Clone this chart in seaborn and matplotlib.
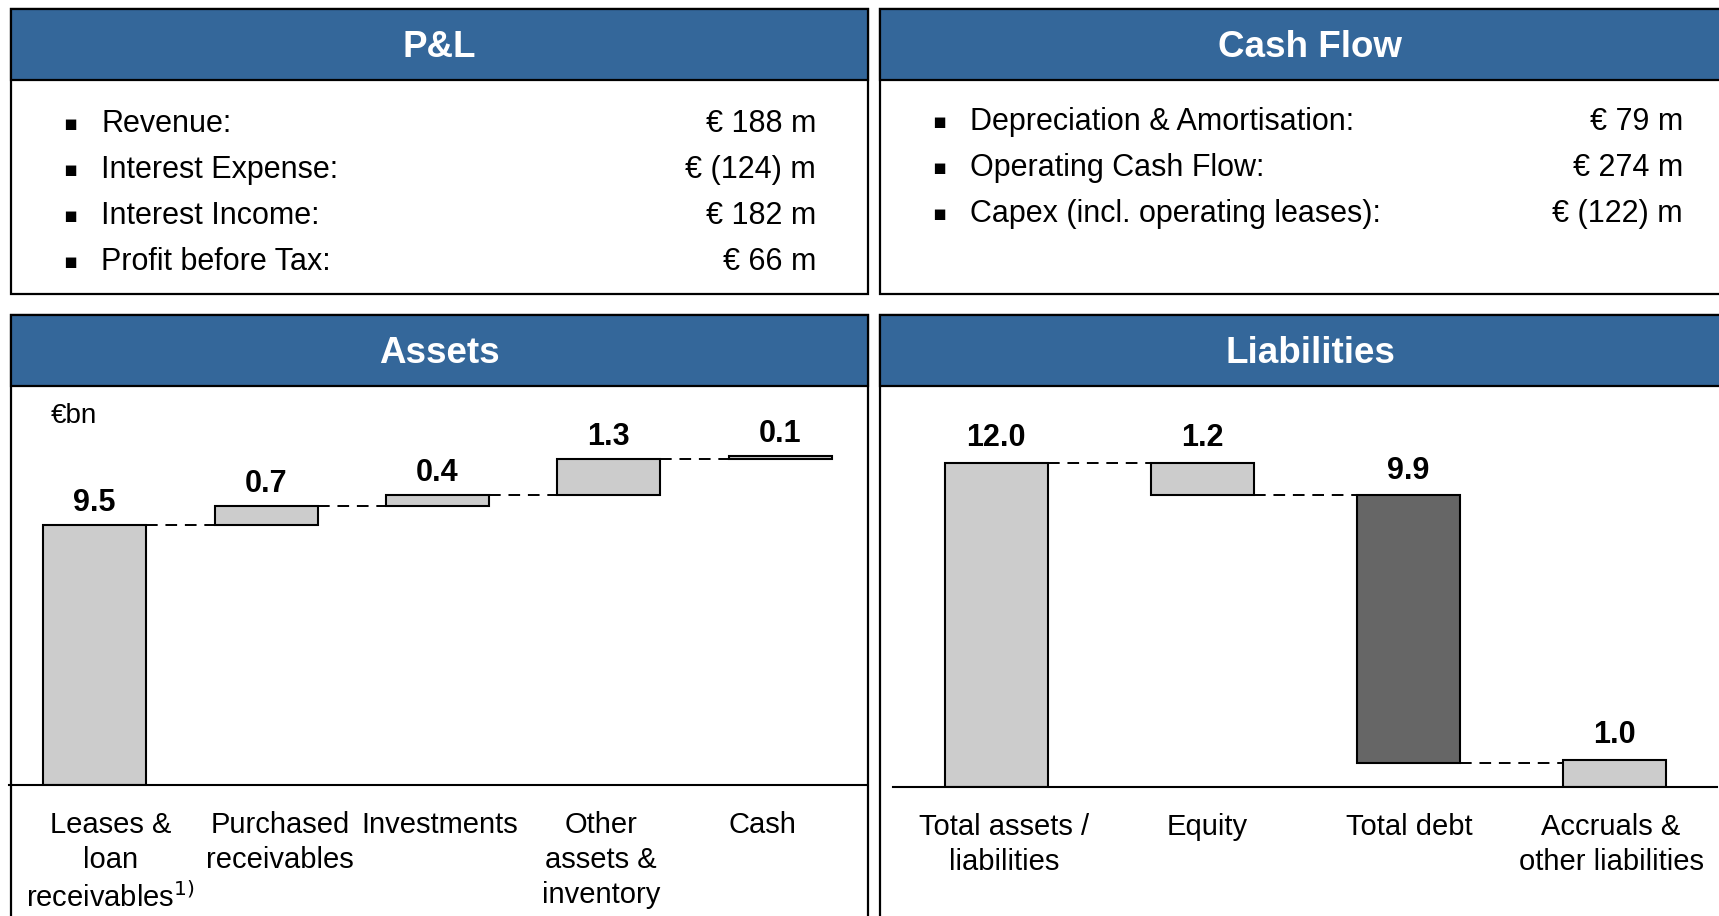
import matplotlib
matplotlib.use("Agg")
import matplotlib.pyplot as plt
from matplotlib.patches import Rectangle
from matplotlib.transforms import ScaledTranslation
import seaborn as sns

# figure size in pixels (dpi 100)
W, H = 1719, 916

# --- data -------------------------------------------------------------
pl_items = ["Revenue:", "Interest Expense:", "Interest Income:", "Profit before Tax:"]
pl_values = ["€ 188 m", "€ (124) m", "€ 182 m", "€ 66 m"]

cf_items = ["Depreciation & Amortisation:", "Operating Cash Flow:",
            "Capex (incl. operating leases):"]
cf_values = ["€ 79 m", "€ 274 m", "€ (122) m"]

asset_labels = ["Leases &\nloan\nreceivables$^{1)}$", "Purchased\nreceivables",
                "Investments", "Other\nassets &\ninventory", "Cash"]
asset_values = [9.5, 0.7, 0.4, 1.3, 0.1]

liab_labels = ["Total assets /\nliabilities", "Equity", "Total debt",
               "Accruals &\nother liabilities"]
liab_values = [12.0, 1.2, 9.9, 1.0]

BLUE = "#34679a"
LIGHT = "#cccccc"
DARK = "#666666"

sns.set_theme(style="white")
plt.rcParams['font.family'] = ['Liberation Sans', 'DejaVu Sans']
plt.rcParams['text.color'] = 'black'
plt.rcParams['xtick.color'] = 'black'


def fx(x):
    return x / W


def fy(y):
    return 1 - y / H


fig = plt.figure(figsize=(W / 100, H / 100), dpi=100)

# panels with blue header bars
panels = [(11, 9, 868, 294, "P&L"), (880, 9, 1740, 294, "Cash Flow"),
          (11, 315, 868, 940, "Assets"), (880, 315, 1740, 940, "Liabilities")]
head_h = 71
for x0, y0, x1, y1, title in panels:
    fig.add_artist(Rectangle((fx(x0), fy(y1)), fx(x1 - x0), (y1 - y0) / H,
                             transform=fig.transFigure, facecolor="white",
                             edgecolor="black", lw=1.6, zorder=-2))
    fig.add_artist(Rectangle((fx(x0), fy(y0 + head_h)), fx(x1 - x0), head_h / H,
                             transform=fig.transFigure, facecolor=BLUE,
                             edgecolor="black", lw=1.6, zorder=-1))
    fig.text(fx((x0 + x1) / 2), fy(y0 + head_h / 2 + 3), title, color="white",
             fontsize=26.5, fontweight="bold", ha="center", va="center")


def bullet_list(items, values, x_bullet, x_text, x_val, y_start, step=46):
    for i, (item, val) in enumerate(zip(items, values)):
        y = fy(y_start + i * step)
        fig.text(fx(x_bullet), y, "▪", fontsize=15, ha="center", va="center",
                 family="DejaVu Sans")
        fig.text(fx(x_text), y, item, fontsize=22, ha="left", va="center")
        fig.text(fx(x_val), y, val, fontsize=22, ha="right", va="center")


bullet_list(pl_items, pl_values, 70, 101, 816, 124)
bullet_list(cf_items, cf_values, 939, 970, 1683, 122)


def waterfall(ax, labels, values, bottoms, colors, width, ymax, label_pad, links,
              shifts):
    sns.barplot(x=labels, y=values, color=LIGHT, saturation=1, width=width,
                edgecolor="black", linewidth=1.5, ax=ax)
    for i, p in enumerate(ax.patches):
        p.set_y(bottoms[i])
        p.set_facecolor(colors[i])
        top = bottoms[i] + values[i]
        ax.annotate(f"{values[i]:.1f}", (i, top), xytext=(0, label_pad),
                    textcoords="offset points", ha="center", va="baseline",
                    fontsize=22, fontweight="bold")
    # dashed connectors between neighbouring bars
    for i, level in links:
        ax.plot([i + width / 2, i + 1 - width / 2], [level, level],
                color="black", lw=1.4, dashes=(6, 4))
    ax.set_xlim(-0.5, len(values) - 0.5)
    ax.set_ylim(0, ymax)
    ax.set_yticks([])
    ax.set_xlabel("")
    ax.set_ylabel("")
    ax.set_facecolor("none")
    for s in ["left", "right", "top"]:
        ax.spines[s].set_visible(False)
    ax.spines["bottom"].set_color("black")
    ax.spines["bottom"].set_linewidth(1.5)
    ax.tick_params(axis="x", length=0, pad=19, labelsize=21, colors="black")
    for t, dx in zip(ax.get_xticklabels(), shifts):
        t.set_linespacing(1.32)
        t.set_transform(t.get_transform() + ScaledTranslation(dx / 100, 0, fig.dpi_scale_trans))


# assets: running total from the left
ax1 = fig.add_axes([fx(9), fy(785), fx(866 - 9), (785 - 386) / H])
a_bottoms = [0]
for v in asset_values[:-1]:
    a_bottoms.append(a_bottoms[-1] + v)
a_links = [(i, a_bottoms[i] + asset_values[i]) for i in range(len(asset_values) - 1)]
waterfall(ax1, asset_labels, asset_values, a_bottoms, [LIGHT] * 5, 0.6,
          (785 - 386) / 27.4, 10, a_links, [16, 14, 2, -8, -18])
fig.text(fx(51), fy(416), "€bn", fontsize=20, ha="left", va="center")

# liabilities: total split into equity, debt and other liabilities
ax2 = fig.add_axes([fx(893), fy(787), fx(1717 - 893), (787 - 386) / H])
total, equity, debt, accruals = liab_values
l_bottoms = [0, total - equity, total - equity - debt, 0]
l_links = [(0, total), (1, total - equity), (2, total - equity - debt)]
waterfall(ax2, liab_labels, liab_values, l_bottoms, [LIGHT, LIGHT, DARK, LIGHT], 0.5,
          (787 - 386) / 27.0, 12, l_links, [8, 5, 1, -3])

fig.savefig("out.png", dpi=100)
